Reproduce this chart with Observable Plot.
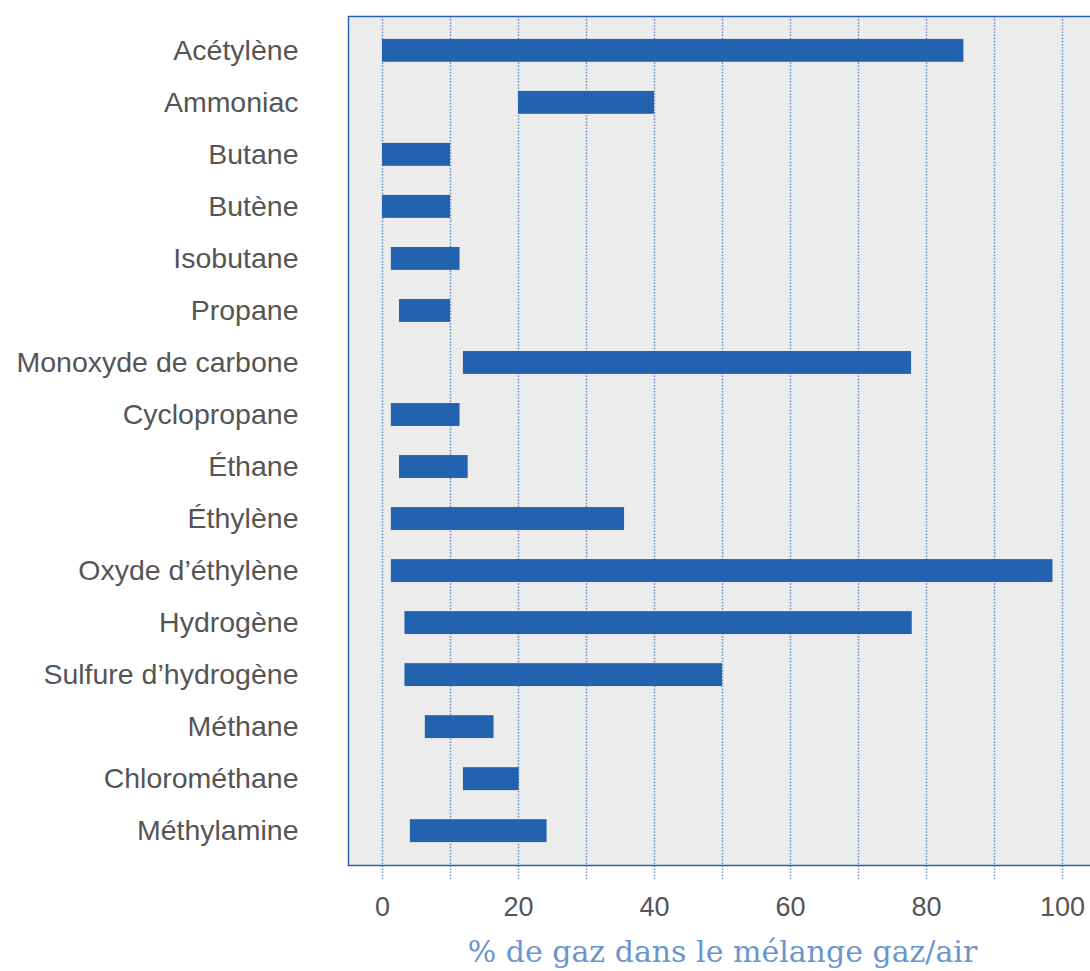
<!DOCTYPE html>
<html>
<head>
<meta charset="utf-8">
<script src="https://cdn.jsdelivr.net/npm/d3@7"></script>
<script src="https://cdn.jsdelivr.net/npm/@observablehq/plot@0.6"></script>
<style>
  html, body { margin: 0; padding: 0; background: #fff; overflow: hidden; }
  #chart { width: 1090px; height: 971px; overflow: hidden; }
  #chart svg { max-width: none !important; }
  [aria-label="x-axis label"] text { fill: #6b95cd; font-family: "DejaVu Serif", serif; font-size: 30px; }
</style>
</head>
<body>
<div id="chart"></div>
<script>
const gases = ["Acétylène","Ammoniac","Butane","Butène","Isobutane","Propane","Monoxyde de carbone","Cyclopropane","Éthane","Éthylène","Oxyde d’éthylène","Hydrogène","Sulfure d’hydrogène","Méthane","Chlorométhane","Méthylamine"];
const lower = [0, 20, 0, 0, 1.3, 2.5, 11.9, 1.3, 2.5, 1.3, 1.3, 3.3, 3.3, 6.3, 11.9, 4.1];
const upper = [85.5, 40, 10, 10, 11.4, 10, 77.8, 11.4, 12.6, 35.6, 98.6, 77.9, 50, 16.4, 20.1, 24.2];
const xTicks = [0, 10, 20, 30, 40, 50, 60, 70, 80, 90, 100];
const xLabel = "% de gaz dans le mélange gaz/air";

const data = gases.map((g, i) => ({gas: g, lo: lower[i], hi: upper[i]}));

const chart = Plot.plot({
  width: 1100,
  height: 971,
  marginLeft: 348,
  marginRight: 4,
  marginTop: 16,
  marginBottom: 106,
  style: {fontFamily: "'Liberation Sans', Arial, sans-serif", background: "transparent", maxWidth: "none"},
  x: {domain: [-5, 105]},
  y: {domain: gases, paddingInner: 0.56, paddingOuter: 0.44, round: false},
  marks: [
    Plot.frame({fill: "#ececec", stroke: null}),
    Plot.ruleX(xTicks, {x: d => d, stroke: "#3a6fbf", strokeOpacity: 0.75, strokeWidth: 1.5, strokeDasharray: "1.5,1.6", insetBottom: -16}),
    Plot.barX(data, {y: "gas", x1: "lo", x2: "hi", fill: "#2262af"}),
    Plot.frame({stroke: "#2a63b4", strokeWidth: 1.5}),
    Plot.axisY({tickSize: 0, tickPadding: 50, fontSize: 28.5, fill: "#555", label: null}),
    Plot.axisX({ticks: xTicks.filter(d => d % 20 === 0), tickSize: 0, tickPadding: 31, fontSize: 27, fill: "#555", tickFormat: d => String(d), label: xLabel, labelAnchor: "center", labelArrow: "none", labelOffset: 96})
  ]
});
document.getElementById("chart").append(chart);
</script>
</body>
</html>
